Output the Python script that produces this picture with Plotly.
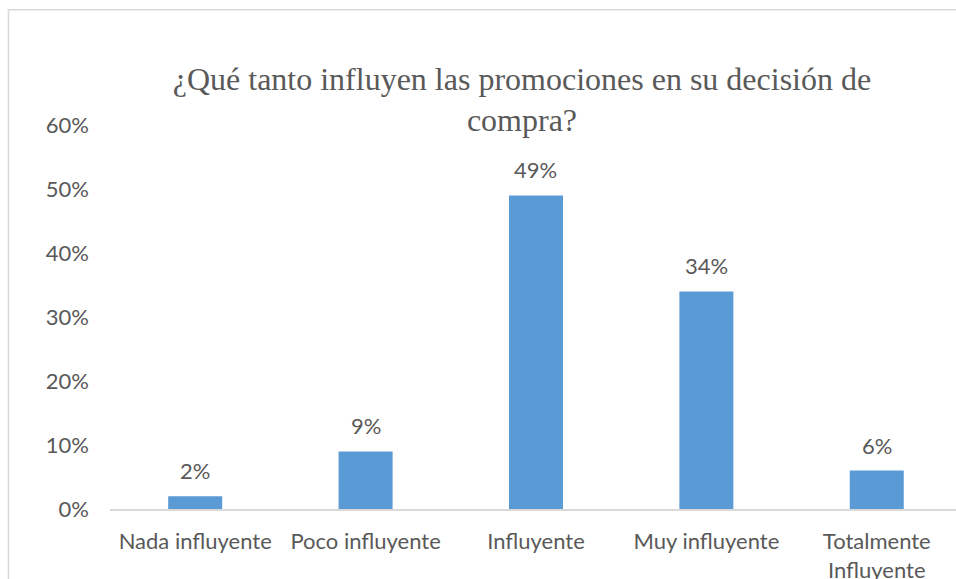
import plotly.graph_objects as go

# Survey results: how much promotions influence the purchase decision
categories = ["Nada influyente", "Poco influyente", "Influyente", "Muy influyente", "Totalmente<br>Influyente"]
percentages = [2, 9, 49, 34, 6]
y_ticks = [0, 10, 20, 30, 40, 50, 60]
y_tick_labels = ["0%", "10%", "20%", "30%", "40%", "50%", "60%"]
title_text = "¿Qué tanto influyen las promociones en su decisión de<br>compra?"

BAR_COLOR = "#5B9BD5"
TEXT_COLOR = "#595959"
LINE_COLOR = "#D9D9D9"
TICK_FONT = dict(family="Lato, Open Sans, sans-serif", size=22, color=TEXT_COLOR)

fig = go.Figure(
    go.Bar(
        x=list(range(len(categories))),
        y=percentages,
        marker=dict(color=BAR_COLOR, line=dict(width=0)),
        width=0.317,
        hoverinfo="skip",
    )
)

# value labels sitting above each bar
for i, v in enumerate(percentages):
    fig.add_annotation(
        x=i, y=v, text=f"{v}%", showarrow=False,
        xanchor="center", yanchor="bottom", yshift=10,
        font=TICK_FONT,
    )

# chart-area border (extends past the visible page on the right and bottom)
fig.add_shape(
    type="rect", xref="paper", yref="paper",
    x0=-0.12, x1=1.5, y0=-0.5, y1=1.3,
    line=dict(color=LINE_COLOR, width=1.5), fillcolor="rgba(0,0,0,0)",
    layer="below",
)

fig.update_layout(
    width=956, height=579,
    margin=dict(l=110, r=0, t=125, b=70, autoexpand=False),
    paper_bgcolor="white", plot_bgcolor="white",
    showlegend=False,
    title=dict(
        text=title_text,
        xref="container", yref="container",
        x=0.546, xanchor="center",
        y=0.845, yanchor="top",
        font=dict(family="Liberation Serif, Times New Roman, serif", size=32, color=TEXT_COLOR),
    ),
    xaxis=dict(
        tickmode="array", tickvals=list(range(len(categories))), ticktext=categories,
        range=[-0.5, 4.465], automargin=False,
        showline=True, linecolor=LINE_COLOR, linewidth=1.5,
        showgrid=False, zeroline=False, ticks="",
        tickfont=TICK_FONT, ticklabelstandoff=12, fixedrange=True,
    ),
    yaxis=dict(
        range=[0, 60], tickmode="array", tickvals=y_ticks, ticktext=y_tick_labels,
        automargin=False,
        showgrid=False, zeroline=False, showline=False, ticks="",
        tickfont=TICK_FONT, ticklabelstandoff=20, fixedrange=True,
    ),
)

fig.write_html("out.html", config={"displayModeBar": False})
